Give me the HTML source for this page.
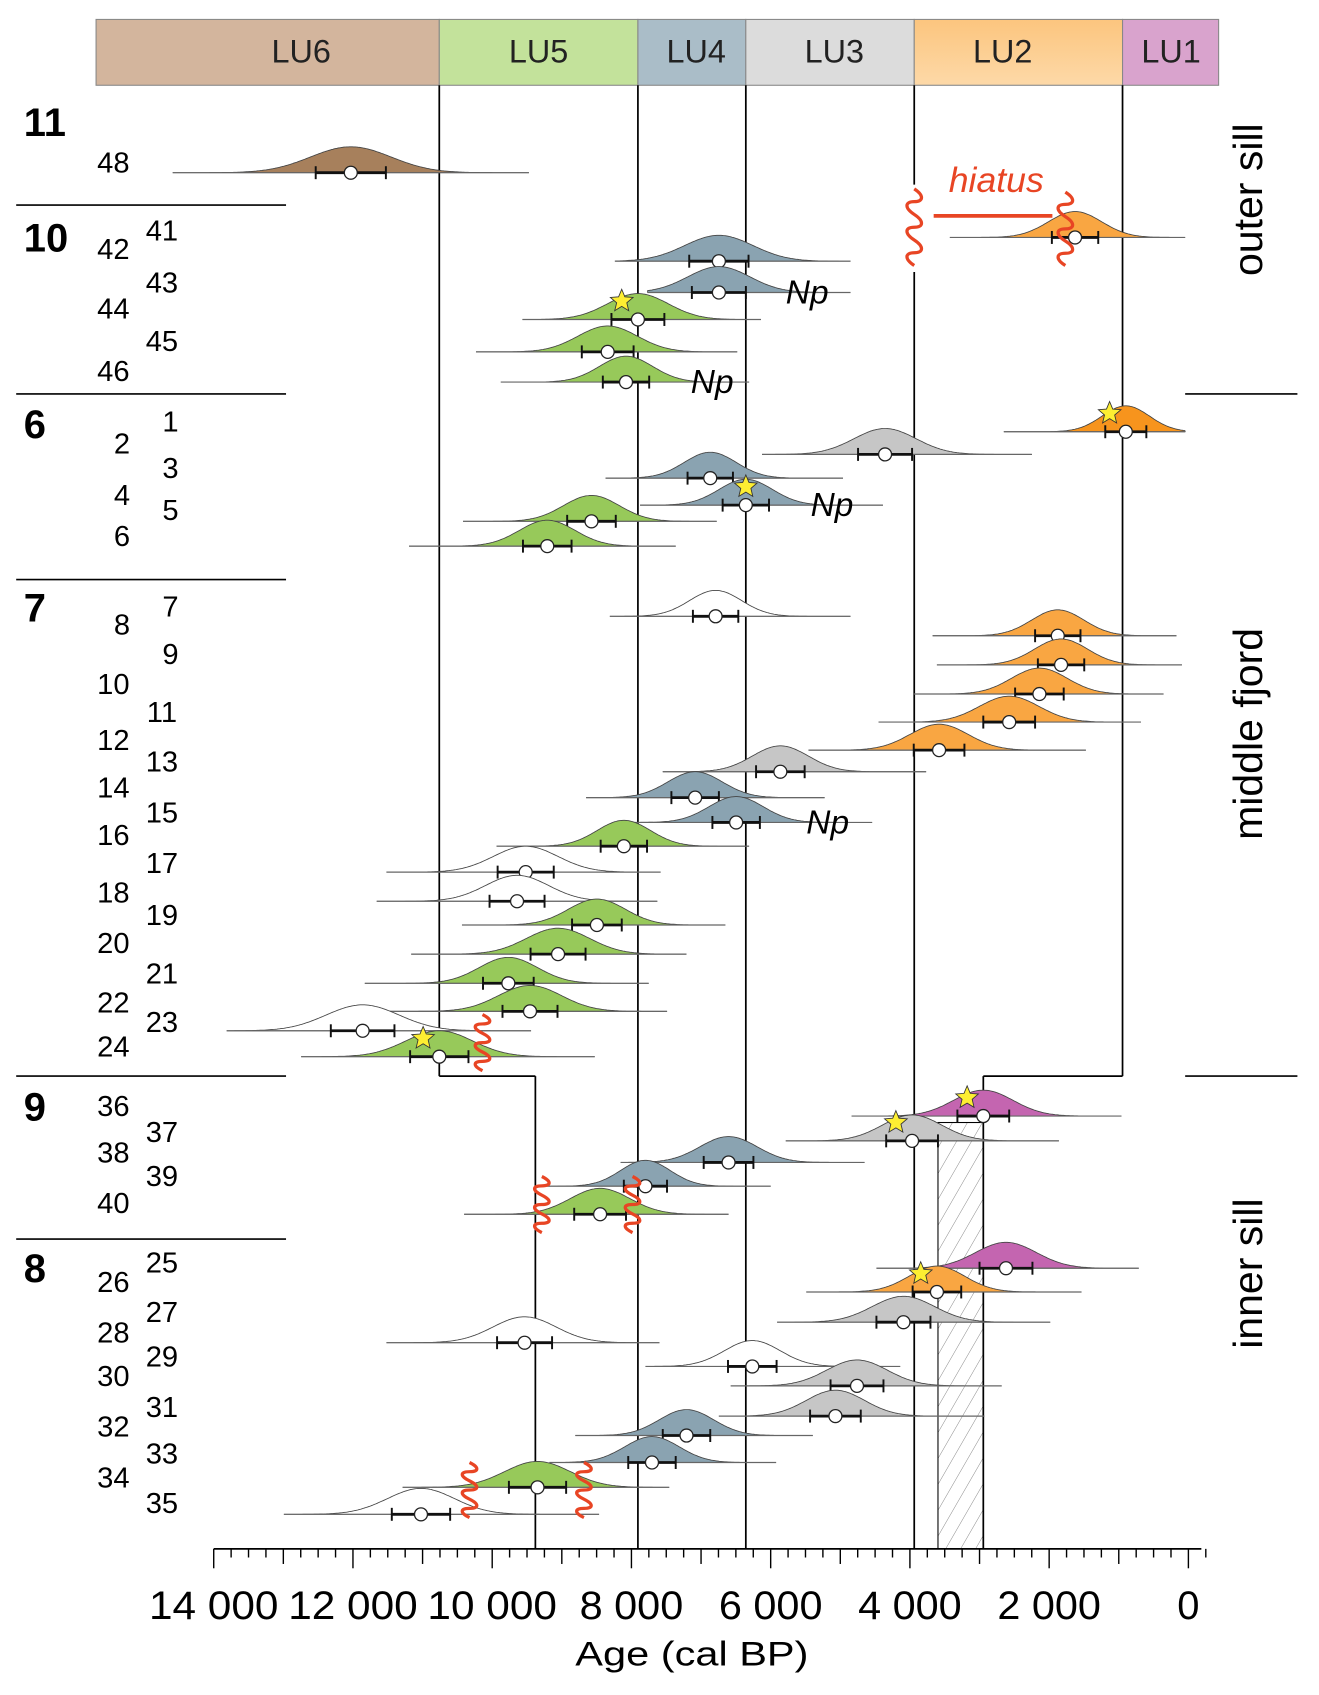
<!DOCTYPE html>
<html><head><meta charset="utf-8"><title>Radiocarbon age chart</title>
<style>html,body{margin:0;padding:0;background:#fff}svg{display:block}text{font-family:"Liberation Sans",Arial,sans-serif}</style>
</head><body>
<svg id="chart" width="1319" height="1695" viewBox="0 0 1222 1570.4" preserveAspectRatio="none" xmlns="http://www.w3.org/2000/svg">
<defs>
<linearGradient id="lu2g" x1="0" y1="0" x2="0" y2="1"><stop offset="0" stop-color="#fcc57e"/><stop offset="1" stop-color="#fdd9a8"/></linearGradient>
<pattern id="hatch" patternUnits="userSpaceOnUse" width="12" height="12" patternTransform="rotate(30)"><line x1="0" y1="0" x2="0" y2="12" stroke="#777" stroke-width="0.8"/></pattern>
</defs>
<g id="header"></g>
<g id="frame"></g>
<g id="marks"></g>
<g id="labels"></g>
<g id="axis"></g>
</svg>
<script>
const NS="http://www.w3.org/2000/svg";
// ---- data ----
const unitNames=["LU6","LU5","LU4","LU3","LU2","LU1"];
const unitStart=[15930,10760,7907,6357,3938,946];
const unitEnd=[10760,7907,6357,3938,946,-435];
const sampleIds=["48","41","42","43","44","45","46","1","2","3","4","5","6","7","8","9","10","11","12","13","14","15","16","17","18","19","20","21","22","23","24","36","37","38","39","40","25","26","27","28","29","30","31","32","33","34","35"];
const medianAge=[12031,1628,6744,6744,7907,8341,8078,899,4357,6868,6357,8574,9209,6791,1876,1829,2140,2574,3581,5861,7085,6496,8109,9519,9643,8496,9054,9768,9457,11861,10760,2946,3969,6605,7799,8450,2620,3612,4093,9535,6264,4760,5070,7209,7705,9349,11023];
const errAge=[504,333,426,388,380,372,333,295,388,326,333,349,349,326,326,333,349,372,364,349,341,341,333,403,395,357,395,364,395,457,419,372,372,357,310,372,380,349,388,395,349,380,364,341,341,411,419];
const oldestAge=[14589,3426,8233,7768,9566,10233,9876,2651,6124,8372,7876,10419,11194,8310,3674,3612,3954,4450,5457,7550,8651,8124,9938,11519,11659,10434,11163,11830,11550,13814,12744,4837,5783,8155,9287,10403,4481,5488,5907,11519,7799,6574,6744,8806,9178,11287,12992];
const youngestAge=[9473,47,4853,4853,6140,6481,6310,47,2248,4961,4388,6775,7364,4853,171,93,357,682,1473,3767,5225,4543,6310,7581,7628,6651,7209,7752,7488,9442,8527,961,1860,4651,6000,6605,713,1535,1985,7597,4140,2682,2930,5395,5922,7457,8465];
const sampleClass=["b","o","u","u","g","g","g","O","a","u","u","g","g","w","o","o","o","o","o","a","u","u","g","w","w","g","g","g","g","w","g","m","a","u","u","g","m","o","a","w","w","a","a","u","u","g","w"];
const rowY=[160,220,242,271,296,326,354,400,421,443,468,483,506,571,589,616,643,669,695,715,739,762,784,808,835,857,884,911,937,955,979,1034,1057,1077,1099,1125,1175,1197,1225,1244,1266,1284,1312,1330,1355,1378,1403];
const starred=["44","1","4","24","36","37","26"];
const npSamples=["43","46","4","15"];
const npX=[728,640,751,747];
const tickMajor=[14000,12000,10000,8000,6000,4000,2000,0];
const fills={b:"#a7805c",o:"#f9a642",O:"#f7941d",u:"#8aa3b1",g:"#97c95a",a:"#c6c6c6",w:"#ffffff",m:"#c465b0"};
// ---- scale ----
const X0=1101, PX=903/14000;
function x(age){return X0-age*PX;}
function el(tag,attrs,parent,txt){const e=document.createElementNS(NS,tag);for(const k in attrs)e.setAttribute(k,attrs[k]);if(txt!==undefined)e.textContent=txt;parent.appendChild(e);return e;}
const hdr=document.getElementById('header'),frame=document.getElementById('frame'),marks=document.getElementById('marks'),labels=document.getElementById('labels'),axis=document.getElementById('axis');
const hColors=["#d3b59d","#c3e29b","#aabdc8","#dcdcdc","url(#lu2g)","#d9a3cd"];
const hLabelX=[279,499,645,773,929,1085];
// header
for(let i=0;i<unitNames.length;i++){
  const x1=Math.max(89,x(unitStart[i])),x2=Math.min(1129,x(unitEnd[i]));
  const r=el('rect',{x:x1,y:18,width:x2-x1,height:61,fill:hColors[i],stroke:"#888","stroke-width":1},hdr);
  
  
  const t=el('text',{x:hLabelX[i],y:58,"font-size":30,"text-anchor":"middle",fill:"#222"},hdr,unitNames[i]);
  
  
}
// boundary lines
const L=(x1,y1,x2,y2,w,c)=>el('line',{x1,y1,x2,y2,stroke:c||"#000","stroke-width":w||1.6},frame);
const hr=el('rect',{x:869,y:1040,width:911-869,height:395,fill:"url(#hatch)",stroke:"#000","stroke-width":1},frame);

L(x(10760),79,x(10760),997);L(x(10760),997,496,997);L(496,997,496,1435);
L(x(7907),79,x(7907),1435);L(x(6357),79,x(6357),1435);
L(x(3938),79,x(3938),171);L(x(3938),252,x(3938),1435);
L(x(946),79,x(946),997);L(x(946),997,911,997);L(911,997,911,1435);
// separators
[190,365,537,997,1148].forEach(y=>L(15,y,265,y,1.5));
[365,997].forEach(y=>L(1098,y,1202,y,1.5));
// group labels
[["11",113],["10",220],["6",393],["7",563],["9",1025],["8",1175]].forEach(g=>{const t=el('text',{x:22,y:g[1]+13,"font-size":37,"font-weight":"bold"},labels,g[0]);});
[["outer sill",185],["middle fjord",680],["inner sill",1180]].forEach(g=>{const t=el('text',{x:0,y:0,"font-size":38,"text-anchor":"middle",transform:`translate(1169,${g[1]}) rotate(-90)`},labels,g[0]);});
// sample labels
const labPos={"48":[105,150],"41":[150,213],"42":[105,230],"43":[150,261],"44":[105,285],"45":[150,315],"46":[105,343],"1":[158,390],"2":[113,410],"3":[158,433],"4":[113,458],"5":[158,472],"6":[113,496],"7":[158,561],"8":[113,578],"9":[158,605],"10":[105,633],"11":[150,659],"12":[105,685],"13":[150,705],"14":[105,729],"15":[150,752],"16":[105,773],"17":[150,799],"18":[105,826],"19":[150,847],"20":[105,873],"21":[150,901],"22":[105,928],"23":[150,946],"24":[105,969],"36":[105,1024],"37":[150,1048],"38":[105,1067],"39":[150,1089],"40":[105,1114],"25":[150,1169],"26":[105,1187],"27":[150,1215],"28":[105,1234],"29":[150,1256],"30":[105,1274],"31":[150,1303],"32":[105,1321],"33":[150,1346],"34":[105,1368],"35":[150,1392]};
for(const id in labPos){const p=labPos[id];const t=el('text',{x:p[0],y:p[1]+10,"font-size":27,"text-anchor":"middle"},labels,id);}
function star(cx,cy,r,parent){let pts=[];for(let k=0;k<10;k++){const a=-Math.PI/2+k*Math.PI/5,rr=k%2?r*0.45:r;pts.push((cx+rr*Math.cos(a)).toFixed(1)+","+(cy+rr*Math.sin(a)).toFixed(1));}return el('polygon',{points:pts.join(" "),fill:"#fdee32",stroke:"#333","stroke-width":0.8},parent);}
// distributions
for(let i=0;i<sampleIds.length;i++){
  const g=el('g',{},marks);
  
  
  const y=rowY[i],m=medianAge[i],s=errAge[i]*1.15;
  let d=`M${x(oldestAge[i]).toFixed(1)},${y}`;
  for(let a=oldestAge[i];a>=youngestAge[i];a-=20){const z=(a-m)/s;const h=24*Math.exp(-0.5*z*z);d+=` L${x(a).toFixed(1)},${(y-h).toFixed(1)}`;}
  d+=` L${x(youngestAge[i]).toFixed(1)},${y} Z`;
  el('path',{d,fill:fills[sampleClass[i]],stroke:"#444","stroke-width":0.8},g);
  el('line',{x1:x(oldestAge[i]),y1:y,x2:x(youngestAge[i]),y2:y,stroke:"#666","stroke-width":1.1},g);
  const xa=x(m+errAge[i]),xb=x(m-errAge[i]);
  el('line',{x1:xa,y1:y,x2:xb,y2:y,stroke:"#111","stroke-width":2.6},g);
  el('line',{x1:xa,y1:y-6,x2:xa,y2:y+6,stroke:"#111","stroke-width":1.8},g);
  el('line',{x1:xb,y1:y-6,x2:xb,y2:y+6,stroke:"#111","stroke-width":1.8},g);
  el('circle',{cx:x(m),cy:y,r:6,fill:"#fff",stroke:"#222","stroke-width":1.2},g);
  if(starred.includes(sampleIds[i])){const st=star(x(m)-(sampleIds[i]==="4"?0:15),y-17,11,g);}
  const ni=npSamples.indexOf(sampleIds[i]);
  if(ni>=0){const t=el('text',{x:npX[ni],y:y+10,"font-size":31,"font-style":"italic"},labels,"Np");}
}
// squiggles
function squig(cx,y1,y2){let d=`M${cx},${y1}`;const n=3,h=(y2-y1)/n;for(let k=0;k<n;k++){const yy=y1+k*h;d+=` C${cx+9},${yy+h*0.25} ${cx+9},${yy+h*0.5} ${cx},${yy+h*0.5} C${cx-9},${yy+h*0.5} ${cx-9},${yy+h*0.75} ${cx},${yy+h}`;}const p=el('path',{d,fill:"none",stroke:"#e84524","stroke-width":3},marks);}
squig(847,175,246);squig(987,178,246);squig(447,940,992);squig(502,1090,1142);squig(586,1090,1142);squig(435,1355,1406);squig(541,1355,1406);
const hl=el('line',{x1:865,y1:200,x2:975,y2:200,stroke:"#e84524","stroke-width":3.5},marks);
const ht=el('text',{x:923,y:178,"font-size":33,"font-style":"italic","text-anchor":"middle",fill:"#e84524"},labels,"hiatus");
// axis
const al=el('line',{x1:198,y1:1435,x2:1113,y2:1435,stroke:"#000","stroke-width":1.6},axis);
for(let a=14000;a>=-250;a-=250){const len=a%2000===0?18:(a%1000===0?14:8);el('line',{x1:x(a),y1:1435,x2:x(a),y2:1435+len,stroke:"#000","stroke-width":1.3},axis);}
tickMajor.forEach(a=>{const lab=a===0?"0":(a/1000)+" 000";const attrs={x:x(a),y:1500,"font-size":37,"text-anchor":"middle"};if(a!==0){attrs.textLength=a>=10000?120:96;attrs.lengthAdjust="spacingAndGlyphs";}const t=el('text',attrs,axis,lab);});
const xt=el('text',{x:641,y:1543,"font-size":32,"text-anchor":"middle",textLength:216,lengthAdjust:"spacingAndGlyphs"},axis,"Age (cal BP)");
</script>
</body></html>
